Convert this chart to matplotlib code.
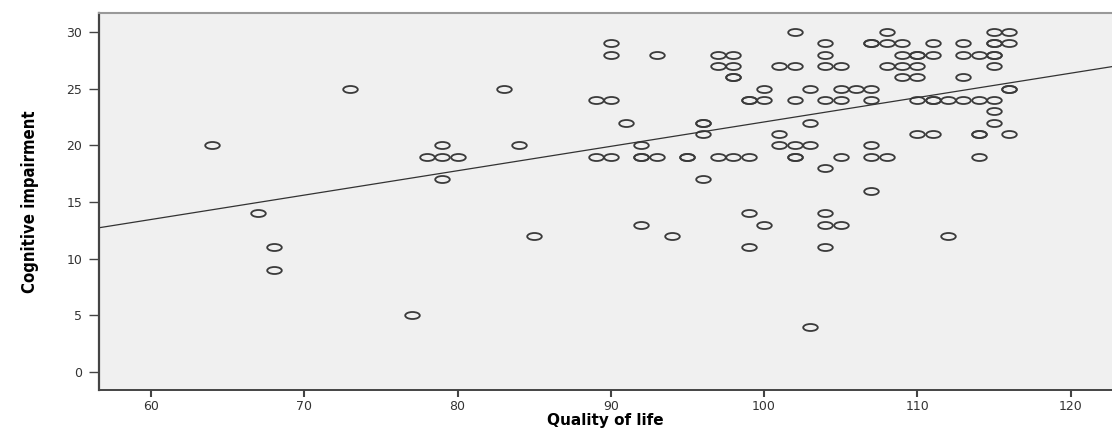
import numpy as np
import matplotlib
matplotlib.use("Agg")
import matplotlib.pyplot as plt
from matplotlib.path import Path

# Quality of life (x) vs cognitive impairment (y); repeated pairs are overlapping points
quality = [64, 67, 68, 68, 73, 77,
           78, 79, 80, 79, 79, 83, 84, 85,
           89, 90, 89, 90, 90, 90, 91, 92, 92, 92, 93, 92, 93, 94,
           95, 95, 96, 96, 96, 96,
           97, 98, 97, 98, 98, 98, 97, 98, 99,
           99, 99, 100, 100, 99, 99, 100,
           101, 102, 102, 101, 101, 102, 103, 102, 102, 102, 103, 103, 103,
           104, 104, 104, 105, 104, 105, 105, 106, 107, 105, 104, 104, 104, 105, 104,
           107, 107, 108, 109, 108, 107, 107, 107, 108, 107,
           109, 110, 110, 111, 108, 109, 110, 109, 110,
           110, 111, 111, 112, 113, 114, 115, 110, 111, 112,
           111, 113, 115, 115, 116, 113, 114, 115, 115, 115, 113, 115, 116,
           116, 116, 115, 115, 114, 114, 116, 114]
cognitive = [20, 14, 11, 9, 25, 5,
             19, 19, 19, 20, 17, 25, 20, 12,
             24, 24, 19, 19, 29, 28, 22, 20, 19, 19, 19, 13, 28, 12,
             19, 19, 22, 22, 21, 17,
             28, 28, 27, 27, 26, 26, 19, 19, 19,
             24, 24, 24, 25, 14, 11, 13,
             27, 27, 30, 21, 20, 20, 20, 19, 19, 24, 25, 22, 4,
             29, 28, 27, 27, 24, 24, 25, 25, 25, 19, 18, 14, 13, 13, 11,
             29, 29, 29, 29, 30, 24, 20, 19, 19, 16,
             28, 28, 28, 28, 27, 27, 27, 26, 26,
             24, 24, 24, 24, 24, 24, 24, 21, 21, 12,
             29, 29, 29, 29, 29, 28, 28, 28, 28, 27, 26, 30, 30,
             25, 25, 23, 22, 21, 21, 21, 19]

x_ticks = [60, 70, 80, 90, 100, 110, 120]
y_ticks = [0, 5, 10, 15, 20, 25, 30]

fig = plt.figure(figsize=(11.12, 4.29), dpi=100)
ax = fig.add_axes([0.089, 0.091, 0.911, 0.879])
ax.set_facecolor('#f0f0f0')

# flattened open circle, like the SPSS output
circ = Path.unit_circle()
ellipse = Path(circ.vertices * np.array([1.0, 0.48]), circ.codes)
ax.plot(quality, cognitive, linestyle='none', marker=ellipse, markersize=10.5,
        markerfacecolor='none', markeredgecolor='#3a3a3a', markeredgewidth=1.3)

xlim = (56.6, 122.7)
slope, intercept = np.polyfit(quality, cognitive, 1)
xs = np.array(xlim)
ax.plot(xs, intercept + slope * xs, color='#333333', lw=0.9)

ax.set_xlim(*xlim)
ax.set_ylim(-1.6, 31.7)
ax.set_xticks(x_ticks)
ax.set_yticks(y_ticks)
ax.tick_params(axis='y', length=7, width=1, color='#444444', labelsize=9,
               labelcolor='#333333', pad=5)
ax.tick_params(axis='x', length=5, width=1.5, color='#444444', labelsize=9,
               labelcolor='#333333', pad=2)

ax.spines['right'].set_visible(False)
ax.spines['top'].set_color('#999999')
ax.spines['top'].set_linewidth(1.5)
ax.spines['left'].set_color('#444444')
ax.spines['left'].set_linewidth(1.6)
ax.spines['bottom'].set_color('#444444')
ax.spines['bottom'].set_linewidth(1.4)

ax.set_xlabel('Quality of life', fontsize=11, fontweight='bold', labelpad=0)
ax.set_ylabel('Cognitive impairment', fontsize=12, fontweight='bold',
              family=['Liberation Sans Narrow', 'DejaVu Sans'],
              fontstretch='condensed', labelpad=20)

fig.savefig('out.png', dpi=100)
